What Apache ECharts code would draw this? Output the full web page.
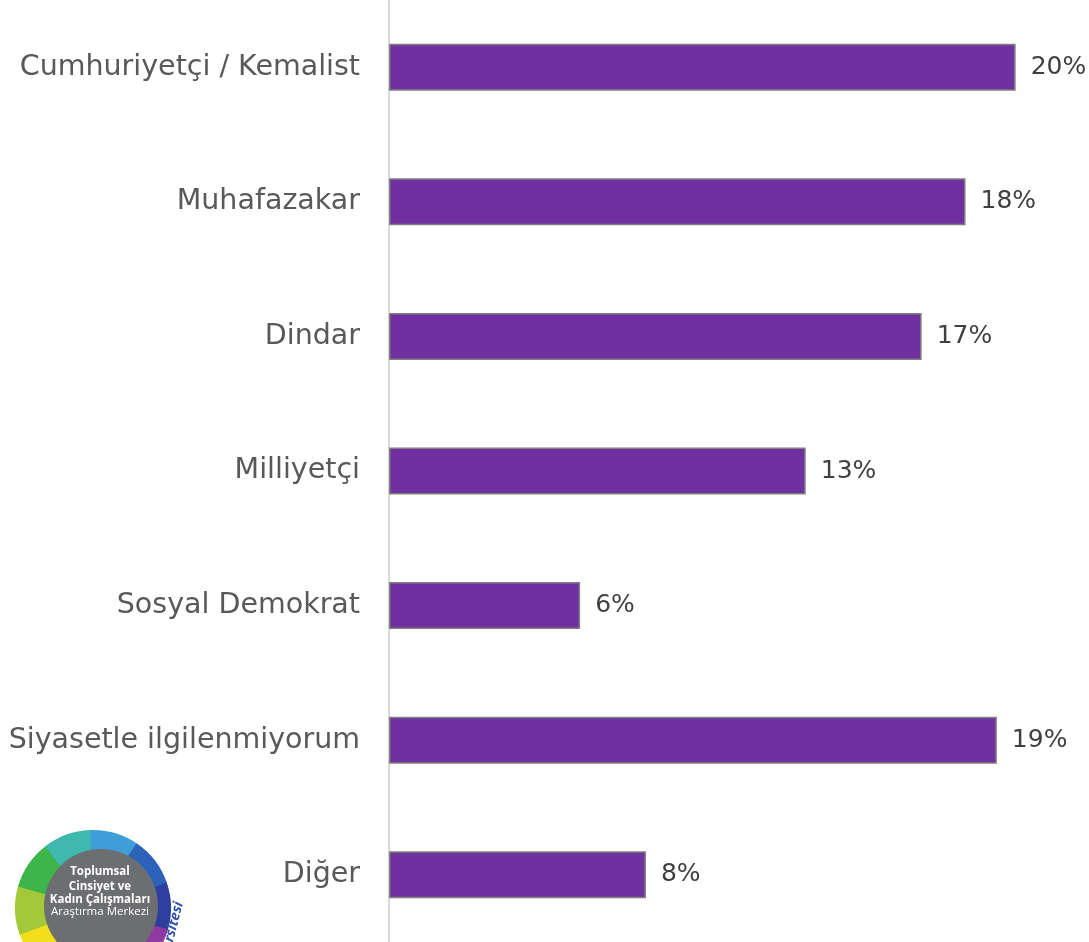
<!DOCTYPE html>
<html>
<head>
<meta charset="utf-8">
<script src="https://cdn.jsdelivr.net/npm/echarts@6/dist/echarts.min.js"></script>
<style>
  html, body { margin: 0; padding: 0; background: #fff; }
  #chart { width: 1089px; height: 942px; }
</style>
</head>
<body>
<div id="chart"></div>
<script>
// categories top to bottom
const categories = [
  "Cumhuriyetçi / Kemalist",
  "Muhafazakar",
  "Dindar",
  "Milliyetçi",
  "Sosyal Demokrat",
  "Siyasetle ilgilenmiyorum",
  "Diğer"
];
const values = [20.0, 18.4, 17.0, 13.3, 6.1, 19.4, 8.2];
// printed labels
const valueLabels = ["20%", "18%", "17%", "13%", "6%", "19%", "8%"];

const chart = echarts.init(document.getElementById("chart"));

// logo ring segments (approximate)
const ringColors = ["#2E3F9E", "#8E3AA0", "#C72D86", "#EE7A2A", "#F4DE1C",
                    "#A3C93A", "#3DB54A", "#3FB8AE", "#3E9FD8", "#2C63B8"];
const cx = 93, cy = 908;
const ring = ringColors.map((c, i) => ({
  type: "sector",
  shape: {
    cx: cx, cy: cy, r0: 40, r: 78,
    startAngle: -0.35 + i * (Math.PI * 2 / ringColors.length),
    endAngle: -0.35 + (i + 1) * (Math.PI * 2 / ringColors.length) + 0.02
  },
  style: { fill: c },
  silent: true
}));

const logoText = (txt, y, bold) => ({
  type: "text",
  x: 100, y: y,
  style: {
    text: txt, fill: "#fff", align: "center", verticalAlign: "middle",
    font: (bold ? "bold " : "") + "11.5px 'Open Sans', sans-serif"
  },
  silent: true
});

const option = {
  animation: false,
  grid: { left: 389, right: 42, top: 0, bottom: -3 },
  xAxis: {
    type: "value",
    min: 0, max: 21,
    show: false
  },
  yAxis: {
    type: "category",
    data: categories,
    inverse: true,
    axisLine: { show: true, lineStyle: { color: "#D9D9D9", width: 2 } },
    axisTick: { show: false },
    axisLabel: {
      margin: 29,
      fontSize: 28.5,
      color: "#595959",
      fontFamily: "DejaVu Sans",
      padding: [4, 0, 0, 0]
    }
  },
  series: [{
    type: "bar",
    data: values,
    barWidth: 47,
    itemStyle: { color: "#7030A0", borderColor: "#808080", borderWidth: 1.5 },
    label: {
      show: true,
      position: "right",
      distance: 15,
      fontSize: 25,
      color: "#404040",
      fontFamily: "DejaVu Sans",
      formatter: p => valueLabels[p.dataIndex]
    }
  }],
  graphic: [
    ...ring,
    { type: "circle", shape: { cx: 101, cy: 906, r: 57 }, style: { fill: "#6D6E71" }, silent: true },
    logoText("Toplumsal", 872, true),
    logoText("Cinsiyet ve", 887, true),
    logoText("Kadın Çalışmaları", 900, true),
    logoText("Araştırma Merkezi", 912, false),
    {
      type: "text", x: 174, y: 922, rotation: Math.PI * 0.42,
      style: { text: "rsitesi", fill: "#2E55A8", font: "italic bold 14px 'Open Sans', sans-serif",
               align: "center", verticalAlign: "middle" },
      silent: true
    }
  ]
};

chart.setOption(option);
window.addEventListener("resize", () => chart.resize());
</script>
</body>
</html>
